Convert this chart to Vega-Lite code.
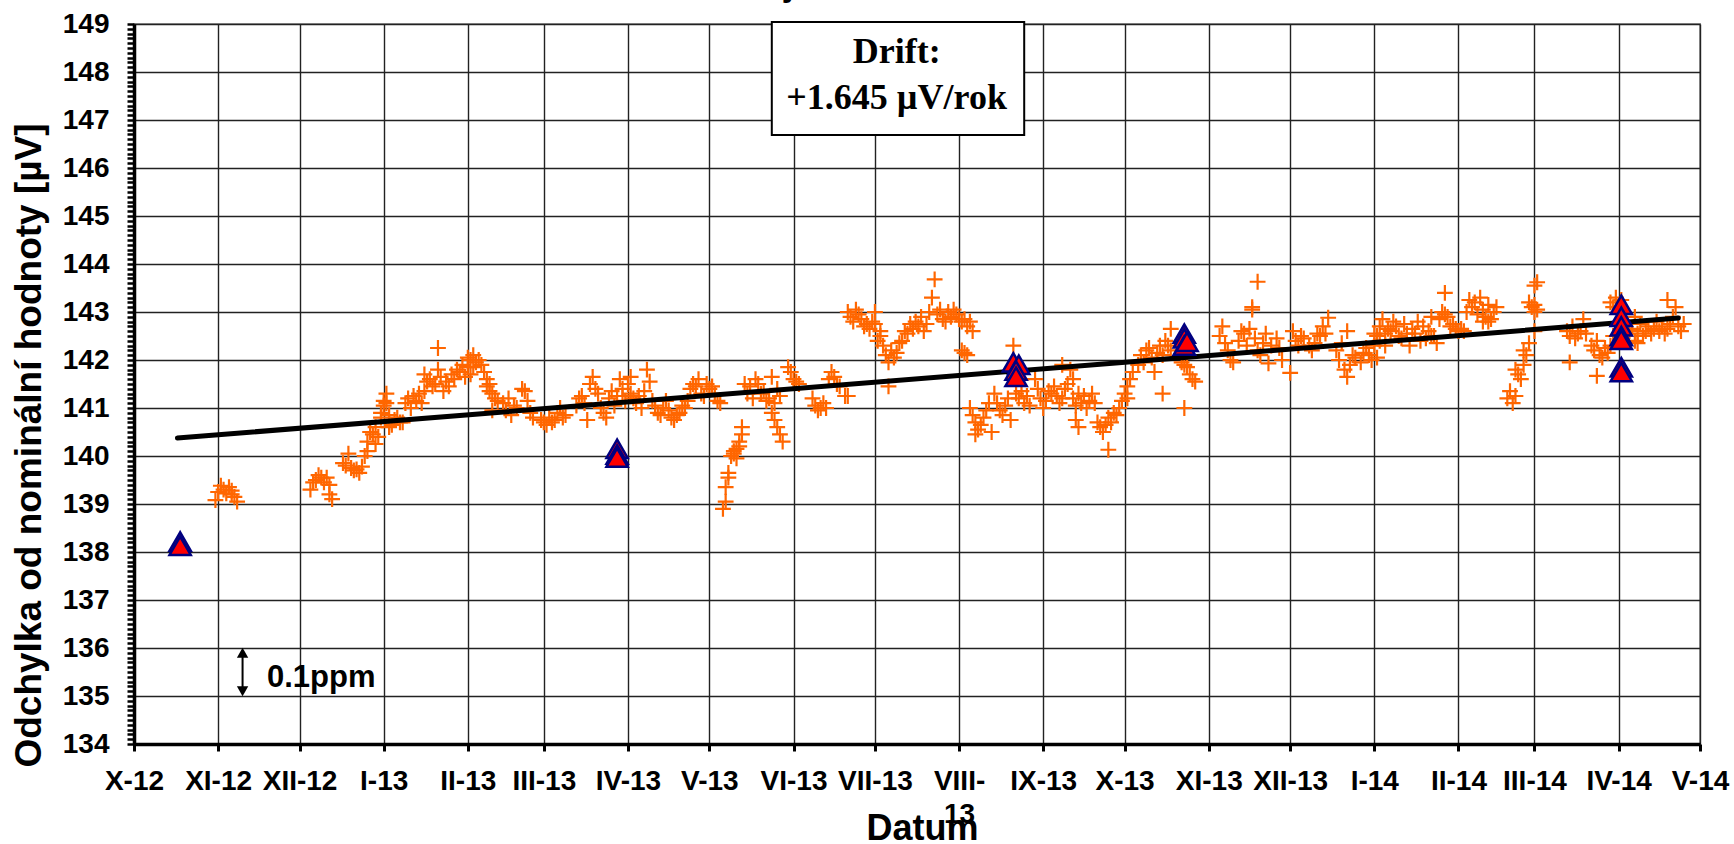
{
"$schema": "https://vega.github.io/schema/vega-lite/v6.json",
"width": 1566, "height": 720,
"autosize": {"type": "none"},
"padding": {"left": 134, "top": 24, "right": 34, "bottom": 100},
"background": "white",
"config": {"view": {"stroke": "#999999", "strokeWidth": 2}, "font": "Liberation Sans"},
"title": {"text": "jednotka č.6", "font": "Liberation Sans", "fontSize": 36, "fontWeight": "bold", "color": "black", "anchor": "middle", "dx": -29, "offset": 7},
"datasets": {
"pts": [
{"d":"2012-10-31","v":139.08},{"d":"2012-11-01","v":139.25},{"d":"2012-11-02","v":139.38},{"d":"2012-11-03","v":139.30},{"d":"2012-11-04","v":139.22},{"d":"2012-11-05","v":139.35},{"d":"2012-11-06","v":139.28},{"d":"2012-11-06","v":139.20},{"d":"2012-11-07","v":139.15},{"d":"2012-11-08","v":139.05},
{"d":"2012-12-05","v":139.30},{"d":"2012-12-06","v":139.45},{"d":"2012-12-07","v":139.50},{"d":"2012-12-08","v":139.60},{"d":"2012-12-09","v":139.55},{"d":"2012-12-10","v":139.45},{"d":"2012-12-11","v":139.55},{"d":"2012-12-12","v":139.40},{"d":"2012-12-12","v":139.20},{"d":"2012-12-13","v":139.10},
{"d":"2012-12-17","v":139.85},{"d":"2012-12-18","v":139.80},{"d":"2012-12-19","v":140.05},{"d":"2012-12-20","v":139.75},{"d":"2012-12-21","v":139.70},{"d":"2012-12-22","v":139.72},{"d":"2012-12-23","v":139.65},{"d":"2012-12-24","v":139.78},{"d":"2012-12-25","v":140.00},{"d":"2012-12-26","v":140.10},
{"d":"2012-12-26","v":140.30},{"d":"2012-12-27","v":140.50},{"d":"2012-12-28","v":140.45},{"d":"2012-12-29","v":140.60},{"d":"2012-12-30","v":140.40},{"d":"2012-12-29","v":140.25},{"d":"2012-12-31","v":140.80},{"d":"2012-12-31","v":140.90},
{"d":"2013-01-01","v":141.15},{"d":"2013-01-01","v":141.05},{"d":"2013-01-02","v":141.30},{"d":"2013-01-02","v":141.10},{"d":"2013-01-03","v":140.70},{"d":"2013-01-03","v":140.60},{"d":"2013-01-04","v":140.65},{"d":"2013-01-05","v":140.75},{"d":"2013-01-06","v":140.80},{"d":"2013-01-07","v":140.70},{"d":"2013-01-03","v":140.85},{"d":"2013-01-08","v":140.70},
{"d":"2013-01-09","v":141.10},{"d":"2013-01-10","v":141.20},{"d":"2013-01-11","v":141.00},{"d":"2013-01-12","v":141.25},{"d":"2013-01-13","v":141.15},{"d":"2013-01-14","v":141.30},{"d":"2013-01-15","v":141.10},{"d":"2013-01-16","v":141.35},
{"d":"2013-01-16","v":141.70},{"d":"2013-01-17","v":141.55},{"d":"2013-01-18","v":141.60},{"d":"2013-01-19","v":141.45},{"d":"2013-01-20","v":141.50},{"d":"2013-01-21","v":141.80},{"d":"2013-01-22","v":141.65},{"d":"2013-01-21","v":142.25},
{"d":"2013-01-23","v":141.35},{"d":"2013-01-24","v":141.55},{"d":"2013-01-25","v":141.45},{"d":"2013-01-26","v":141.70},{"d":"2013-01-27","v":141.60},{"d":"2013-01-28","v":141.80},{"d":"2013-01-29","v":141.75},{"d":"2013-01-30","v":141.90},{"d":"2013-01-31","v":141.65},{"d":"2013-02-01","v":141.85},{"d":"2013-02-02","v":141.70},
{"d":"2013-02-01","v":142.05},{"d":"2013-02-02","v":142.00},{"d":"2013-02-03","v":142.10},{"d":"2013-02-04","v":141.95},{"d":"2013-02-05","v":142.00},{"d":"2013-02-06","v":141.90},{"d":"2013-02-07","v":141.75},{"d":"2013-02-08","v":141.60},{"d":"2013-02-09","v":141.50},{"d":"2013-02-03","v":141.85},
{"d":"2013-02-08","v":141.45},{"d":"2013-02-09","v":141.35},{"d":"2013-02-10","v":141.30},{"d":"2013-02-11","v":141.20},{"d":"2013-02-12","v":141.15},{"d":"2013-02-10","v":140.95},
{"d":"2013-02-14","v":141.10},{"d":"2013-02-15","v":140.95},{"d":"2013-02-16","v":141.20},{"d":"2013-02-17","v":140.85},{"d":"2013-02-18","v":141.05},{"d":"2013-02-19","v":141.00},
{"d":"2013-02-21","v":141.40},{"d":"2013-02-22","v":141.35},{"d":"2013-02-23","v":141.15},{"d":"2013-02-24","v":140.90},{"d":"2013-02-25","v":140.80},
{"d":"2013-02-28","v":140.75},{"d":"2013-03-01","v":140.70},{"d":"2013-03-02","v":140.65},{"d":"2013-03-03","v":140.80},{"d":"2013-03-04","v":140.70},{"d":"2013-03-05","v":140.75},{"d":"2013-03-06","v":140.90},{"d":"2013-03-07","v":141.00},{"d":"2013-03-08","v":140.80},{"d":"2013-03-09","v":140.85},
{"d":"2013-03-13","v":141.05},{"d":"2013-03-14","v":141.20},{"d":"2013-03-15","v":141.25},{"d":"2013-03-16","v":141.10},{"d":"2013-03-17","v":140.75},{"d":"2013-03-18","v":141.50},{"d":"2013-03-19","v":141.65},{"d":"2013-03-20","v":141.40},{"d":"2013-03-21","v":141.30},{"d":"2013-03-22","v":141.00},{"d":"2013-03-23","v":140.90},{"d":"2013-03-24","v":140.80},
{"d":"2013-03-25","v":141.20},{"d":"2013-03-26","v":141.35},{"d":"2013-03-27","v":141.05},{"d":"2013-03-28","v":141.25},{"d":"2013-03-29","v":141.60},{"d":"2013-03-30","v":141.25},{"d":"2013-03-30","v":141.40},{"d":"2013-03-31","v":141.15},
{"d":"2013-04-01","v":141.50},{"d":"2013-04-02","v":141.30},{"d":"2013-04-02","v":141.65},{"d":"2013-04-03","v":141.20},{"d":"2013-04-04","v":141.10},{"d":"2013-04-05","v":141.25},{"d":"2013-04-06","v":141.00},{"d":"2013-04-07","v":141.35},{"d":"2013-04-08","v":141.80},{"d":"2013-04-09","v":141.55},{"d":"2013-04-10","v":141.15},{"d":"2013-04-11","v":141.05},{"d":"2013-04-12","v":140.90},{"d":"2013-04-13","v":140.85},
{"d":"2013-04-14","v":141.00},{"d":"2013-04-15","v":141.15},{"d":"2013-04-16","v":140.95},{"d":"2013-04-17","v":140.80},{"d":"2013-04-18","v":140.75},{"d":"2013-04-19","v":140.85},{"d":"2013-04-20","v":140.90},
{"d":"2013-04-21","v":141.05},{"d":"2013-04-22","v":141.00},{"d":"2013-04-23","v":141.15},{"d":"2013-04-24","v":141.40},{"d":"2013-04-25","v":141.50},{"d":"2013-04-26","v":141.45},{"d":"2013-04-27","v":141.60},{"d":"2013-04-28","v":141.30},{"d":"2013-04-29","v":141.25},{"d":"2013-04-30","v":141.50},
{"d":"2013-05-01","v":141.40},{"d":"2013-05-02","v":141.45},{"d":"2013-05-03","v":141.30},{"d":"2013-05-04","v":141.15},{"d":"2013-05-05","v":141.10},
{"d":"2013-05-06","v":138.90},{"d":"2013-05-07","v":139.05},{"d":"2013-05-07","v":139.35},{"d":"2013-05-08","v":139.55},{"d":"2013-05-08","v":139.65},{"d":"2013-05-09","v":140.00},{"d":"2013-05-10","v":140.05},{"d":"2013-05-10","v":140.10},{"d":"2013-05-11","v":139.95},{"d":"2013-05-11","v":140.15},{"d":"2013-05-12","v":140.30},{"d":"2013-05-12","v":140.20},{"d":"2013-05-13","v":140.45},{"d":"2013-05-13","v":140.60},
{"d":"2013-05-14","v":141.50},{"d":"2013-05-15","v":141.30},{"d":"2013-05-16","v":141.45},{"d":"2013-05-17","v":141.20},{"d":"2013-05-18","v":141.60},{"d":"2013-05-19","v":141.50},{"d":"2013-05-20","v":141.30},{"d":"2013-05-21","v":141.35},{"d":"2013-05-22","v":141.15},{"d":"2013-05-23","v":141.20},{"d":"2013-05-24","v":141.65},{"d":"2013-05-25","v":141.10},{"d":"2013-05-26","v":141.40},{"d":"2013-05-27","v":141.25},
{"d":"2013-05-24","v":140.90},{"d":"2013-05-25","v":140.75},{"d":"2013-05-26","v":140.60},{"d":"2013-05-27","v":140.45},{"d":"2013-05-28","v":140.30},
{"d":"2013-05-30","v":141.85},{"d":"2013-05-31","v":141.75},{"d":"2013-06-01","v":141.60},{"d":"2013-06-02","v":141.55},{"d":"2013-06-03","v":141.50},
{"d":"2013-06-08","v":141.20},{"d":"2013-06-09","v":141.05},{"d":"2013-06-10","v":140.95},{"d":"2013-06-11","v":141.00},{"d":"2013-06-12","v":141.10},{"d":"2013-06-13","v":141.00},
{"d":"2013-06-14","v":141.60},{"d":"2013-06-15","v":141.75},{"d":"2013-06-16","v":141.65},{"d":"2013-06-17","v":141.50},{"d":"2013-06-18","v":141.45},{"d":"2013-06-20","v":141.25},{"d":"2013-06-21","v":141.25},{"d":"2013-07-06","v":141.45},
{"d":"2013-06-21","v":143.00},{"d":"2013-06-22","v":142.90},{"d":"2013-06-23","v":142.80},{"d":"2013-06-24","v":143.05},{"d":"2013-06-25","v":142.95},{"d":"2013-06-26","v":142.85},{"d":"2013-06-27","v":142.70},{"d":"2013-06-28","v":142.75},{"d":"2013-06-29","v":142.65},{"d":"2013-06-30","v":142.80},{"d":"2013-07-01","v":142.75},{"d":"2013-07-01","v":143.00},{"d":"2013-07-02","v":142.40},{"d":"2013-07-03","v":142.60},
{"d":"2013-07-03","v":142.50},{"d":"2013-07-04","v":142.30},{"d":"2013-07-05","v":142.10},{"d":"2013-07-06","v":141.95},{"d":"2013-07-07","v":142.20},{"d":"2013-07-08","v":142.05},{"d":"2013-07-09","v":142.15},{"d":"2013-07-10","v":142.35},{"d":"2013-07-11","v":142.40},{"d":"2013-07-12","v":142.60},{"d":"2013-07-13","v":142.55},{"d":"2013-07-14","v":142.75},{"d":"2013-07-15","v":142.65},
{"d":"2013-07-16","v":142.80},{"d":"2013-07-17","v":142.70},{"d":"2013-07-18","v":142.90},{"d":"2013-07-19","v":142.60},{"d":"2013-07-20","v":142.75},{"d":"2013-07-21","v":143.00},{"d":"2013-07-22","v":143.30},{"d":"2013-07-23","v":143.68},{"d":"2013-07-24","v":142.95},{"d":"2013-07-25","v":143.05},{"d":"2013-07-26","v":142.85},{"d":"2013-07-27","v":142.80},{"d":"2013-07-28","v":143.00},{"d":"2013-07-29","v":142.90},{"d":"2013-07-30","v":143.05},{"d":"2013-07-31","v":142.95},{"d":"2013-08-01","v":142.85},{"d":"2013-08-02","v":142.80},{"d":"2013-08-03","v":142.85},{"d":"2013-08-04","v":142.70},{"d":"2013-08-05","v":142.80},{"d":"2013-08-06","v":142.60},
{"d":"2013-08-02","v":142.20},{"d":"2013-08-03","v":142.15},{"d":"2013-08-04","v":142.10},
{"d":"2013-08-05","v":141.00},{"d":"2013-08-06","v":140.85},{"d":"2013-08-07","v":140.70},{"d":"2013-08-07","v":140.45},{"d":"2013-08-08","v":140.55},{"d":"2013-08-09","v":140.65},{"d":"2013-08-10","v":140.80},{"d":"2013-08-11","v":140.95},{"d":"2013-08-12","v":141.10},{"d":"2013-08-13","v":140.50},
{"d":"2013-08-14","v":141.30},{"d":"2013-08-15","v":141.10},{"d":"2013-08-16","v":140.95},{"d":"2013-08-17","v":140.85},{"d":"2013-08-18","v":141.05},{"d":"2013-08-19","v":141.20},{"d":"2013-08-20","v":140.75},{"d":"2013-08-21","v":142.30},
{"d":"2013-08-22","v":141.30},{"d":"2013-08-23","v":141.20},{"d":"2013-08-24","v":141.35},{"d":"2013-08-24","v":141.60},{"d":"2013-08-25","v":141.10},{"d":"2013-08-26","v":141.25},{"d":"2013-08-27","v":141.05},
{"d":"2013-08-29","v":141.60},{"d":"2013-08-30","v":141.40},{"d":"2013-08-31","v":141.20},{"d":"2013-09-01","v":141.00},{"d":"2013-09-02","v":141.15},{"d":"2013-09-03","v":141.35},{"d":"2013-09-04","v":141.30},{"d":"2013-09-05","v":141.45},{"d":"2013-09-06","v":141.25},{"d":"2013-09-07","v":141.10},{"d":"2013-09-08","v":141.90},{"d":"2013-09-08","v":141.20},{"d":"2013-09-09","v":141.40},{"d":"2013-09-10","v":141.50},{"d":"2013-09-11","v":141.80},{"d":"2013-09-12","v":141.60},
{"d":"2013-09-12","v":141.20},{"d":"2013-09-13","v":141.05},{"d":"2013-09-14","v":141.30},{"d":"2013-09-15","v":141.10},{"d":"2013-09-16","v":141.25},{"d":"2013-09-17","v":141.00},{"d":"2013-09-18","v":141.15},{"d":"2013-09-19","v":141.30},{"d":"2013-09-20","v":141.10},{"d":"2013-09-13","v":140.75},{"d":"2013-09-14","v":140.60},
{"d":"2013-09-21","v":140.70},{"d":"2013-09-22","v":140.60},{"d":"2013-09-23","v":140.50},{"d":"2013-09-24","v":140.65},{"d":"2013-09-25","v":140.80},{"d":"2013-09-26","v":140.70},{"d":"2013-09-27","v":140.90},{"d":"2013-09-28","v":140.85},{"d":"2013-09-29","v":141.00},{"d":"2013-09-30","v":141.15},{"d":"2013-09-25","v":140.13},
{"d":"2013-10-01","v":141.30},{"d":"2013-10-02","v":141.45},{"d":"2013-10-03","v":141.60},{"d":"2013-10-04","v":141.75},{"d":"2013-10-02","v":141.20},
{"d":"2013-10-06","v":141.90},{"d":"2013-10-07","v":142.10},{"d":"2013-10-08","v":141.95},{"d":"2013-10-09","v":142.20},{"d":"2013-10-10","v":142.25},{"d":"2013-10-11","v":142.05},{"d":"2013-10-12","v":141.75},{"d":"2013-10-13","v":142.15},{"d":"2013-10-14","v":142.30},{"d":"2013-10-15","v":142.10},{"d":"2013-10-16","v":142.40},{"d":"2013-10-17","v":142.30},{"d":"2013-10-18","v":142.20},{"d":"2013-10-15","v":141.30},{"d":"2013-10-18","v":142.65},
{"d":"2013-10-22","v":141.95},{"d":"2013-10-23","v":141.90},{"d":"2013-10-24","v":141.85},{"d":"2013-10-25","v":141.70},{"d":"2013-10-26","v":141.60},{"d":"2013-10-27","v":141.55},{"d":"2013-10-23","v":141.00},
{"d":"2013-11-05","v":142.50},{"d":"2013-11-06","v":142.70},{"d":"2013-11-07","v":142.35},{"d":"2013-11-08","v":142.20},{"d":"2013-11-09","v":142.00},{"d":"2013-11-10","v":141.95},{"d":"2013-11-12","v":142.40},{"d":"2013-11-13","v":142.60},{"d":"2013-11-14","v":142.55},{"d":"2013-11-15","v":142.30},{"d":"2013-11-16","v":142.65},{"d":"2013-11-17","v":143.10},{"d":"2013-11-17","v":143.05},{"d":"2013-11-18","v":142.45},{"d":"2013-11-19","v":142.20},{"d":"2013-11-19","v":143.63},{"d":"2013-11-20","v":142.10},{"d":"2013-11-21","v":142.35},{"d":"2013-11-22","v":142.55},{"d":"2013-11-23","v":141.93},{"d":"2013-11-24","v":142.30},{"d":"2013-11-26","v":142.45},{"d":"2013-11-27","v":142.25},{"d":"2013-11-28","v":142.00},{"d":"2013-12-01","v":141.73},
{"d":"2013-12-02","v":142.60},{"d":"2013-12-03","v":142.40},{"d":"2013-12-04","v":142.30},{"d":"2013-12-05","v":142.50},{"d":"2013-12-06","v":142.45},{"d":"2013-12-08","v":142.30},{"d":"2013-12-09","v":142.20},{"d":"2013-12-10","v":142.35},{"d":"2013-12-11","v":142.55},{"d":"2013-12-12","v":142.50},{"d":"2013-12-13","v":142.70},{"d":"2013-12-14","v":142.55},{"d":"2013-12-15","v":142.88},
{"d":"2013-12-18","v":142.20},{"d":"2013-12-19","v":142.00},{"d":"2013-12-20","v":142.35},{"d":"2013-12-21","v":141.80},{"d":"2013-12-22","v":141.65},{"d":"2013-12-22","v":142.60},{"d":"2013-12-23","v":141.90},{"d":"2013-12-24","v":142.10},{"d":"2013-12-25","v":142.05},{"d":"2013-12-27","v":141.95},{"d":"2013-12-28","v":142.15},{"d":"2013-12-29","v":142.25},{"d":"2013-12-30","v":142.10},{"d":"2013-12-31","v":142.00},
{"d":"2014-01-01","v":142.30},{"d":"2014-01-01","v":142.55},{"d":"2014-01-02","v":142.05},{"d":"2014-01-02","v":142.50},{"d":"2014-01-03","v":142.70},{"d":"2014-01-03","v":142.40},{"d":"2014-01-04","v":142.85},{"d":"2014-01-05","v":142.55},{"d":"2014-01-05","v":142.30},{"d":"2014-01-06","v":142.65},{"d":"2014-01-07","v":142.60},{"d":"2014-01-08","v":142.80},{"d":"2014-01-09","v":142.70},{"d":"2014-01-10","v":142.50},{"d":"2014-01-11","v":142.45},{"d":"2014-01-12","v":142.75},{"d":"2014-01-13","v":142.55},{"d":"2014-01-14","v":142.30},
{"d":"2014-01-15","v":142.65},{"d":"2014-01-16","v":142.55},{"d":"2014-01-17","v":142.80},{"d":"2014-01-18","v":142.40},{"d":"2014-01-19","v":142.70},{"d":"2014-01-20","v":142.45},{"d":"2014-01-21","v":142.60},{"d":"2014-01-22","v":142.90},{"d":"2014-01-22","v":142.50},{"d":"2014-01-23","v":142.50},{"d":"2014-01-24","v":142.35},
{"d":"2014-01-25","v":142.85},{"d":"2014-01-26","v":143.00},{"d":"2014-01-27","v":142.95},{"d":"2014-01-27","v":143.40},{"d":"2014-01-28","v":142.90},{"d":"2014-01-29","v":142.70},{"d":"2014-01-30","v":142.75},{"d":"2014-01-31","v":142.65},
{"d":"2014-02-01","v":142.60},{"d":"2014-02-02","v":142.65},{"d":"2014-02-03","v":142.60},
{"d":"2014-02-04","v":143.00},{"d":"2014-02-05","v":143.25},{"d":"2014-02-06","v":143.10},{"d":"2014-02-07","v":143.20},{"d":"2014-02-08","v":142.95},{"d":"2014-02-09","v":143.30},{"d":"2014-02-10","v":143.05},{"d":"2014-02-11","v":142.90},{"d":"2014-02-12","v":143.15},{"d":"2014-02-13","v":142.85},{"d":"2014-02-14","v":143.00},{"d":"2014-02-15","v":143.10},{"d":"2014-02-10","v":142.80},{"d":"2014-02-12","v":142.80},
{"d":"2014-02-19","v":141.20},{"d":"2014-02-20","v":141.35},{"d":"2014-02-21","v":141.10},{"d":"2014-02-22","v":141.25},{"d":"2014-02-22","v":141.80},{"d":"2014-02-23","v":141.70},{"d":"2014-02-24","v":141.60},{"d":"2014-02-25","v":141.90},{"d":"2014-02-25","v":142.20},{"d":"2014-02-26","v":142.10},{"d":"2014-02-27","v":142.35},
{"d":"2014-02-27","v":143.20},{"d":"2014-02-28","v":143.10},{"d":"2014-03-01","v":143.15},{"d":"2014-03-01","v":143.00},{"d":"2014-03-02","v":143.05},{"d":"2014-03-01","v":143.55},{"d":"2014-03-02","v":143.62},{"d":"2014-03-01","v":142.60},
{"d":"2014-03-13","v":142.60},{"d":"2014-03-14","v":142.50},{"d":"2014-03-15","v":142.70},{"d":"2014-03-16","v":142.45},{"d":"2014-03-17","v":142.55},{"d":"2014-03-18","v":142.60},{"d":"2014-03-19","v":142.85},{"d":"2014-03-20","v":142.55},{"d":"2014-03-14","v":141.95},
{"d":"2014-03-22","v":142.30},{"d":"2014-03-23","v":142.20},{"d":"2014-03-24","v":142.40},{"d":"2014-03-24","v":141.67},{"d":"2014-03-25","v":142.10},{"d":"2014-03-26","v":142.05},{"d":"2014-03-27","v":142.25},{"d":"2014-03-28","v":142.15},{"d":"2014-03-29","v":142.30},{"d":"2014-03-30","v":142.50},
{"d":"2014-03-29","v":143.20},{"d":"2014-03-30","v":143.10},{"d":"2014-03-31","v":143.30},{"d":"2014-04-01","v":143.00},{"d":"2014-04-02","v":143.25},
{"d":"2014-04-05","v":142.60},{"d":"2014-04-06","v":142.65},{"d":"2014-04-07","v":142.90},{"d":"2014-04-07","v":142.40},{"d":"2014-04-08","v":142.55},{"d":"2014-04-08","v":142.35},{"d":"2014-04-09","v":142.75},{"d":"2014-04-10","v":142.50},{"d":"2014-04-11","v":142.60},{"d":"2014-04-12","v":142.70},{"d":"2014-04-13","v":142.55},{"d":"2014-04-14","v":142.65},{"d":"2014-04-15","v":142.80},{"d":"2014-04-16","v":142.60},{"d":"2014-04-17","v":142.70},{"d":"2014-04-18","v":142.55},{"d":"2014-04-19","v":142.65},{"d":"2014-04-19","v":143.25},{"d":"2014-04-20","v":142.75},{"d":"2014-04-21","v":142.90},{"d":"2014-04-22","v":143.10},{"d":"2014-04-23","v":142.70},{"d":"2014-04-24","v":142.60},{"d":"2014-04-25","v":142.75}
],
"ref": [
{"d":"2012-10-18","v":138.22},{"d":"2012-10-18","v":138.13},
{"d":"2013-03-28","v":140.15},{"d":"2013-03-28","v":140.03},{"d":"2013-03-28","v":139.97},
{"d":"2013-08-21","v":141.95},{"d":"2013-08-23","v":141.90},{"d":"2013-08-22","v":141.78},{"d":"2013-08-22","v":141.65},
{"d":"2013-10-23","v":142.55},{"d":"2013-10-23","v":142.45},{"d":"2013-10-23","v":142.30},{"d":"2013-10-24","v":142.38},
{"d":"2014-04-02","v":143.15},{"d":"2014-04-02","v":142.90},{"d":"2014-04-02","v":142.70},{"d":"2014-04-02","v":142.50},{"d":"2014-04-02","v":142.42},{"d":"2014-04-02","v":141.85},{"d":"2014-04-02","v":141.75}
],
"trend": [{"d":"2012-10-17","v":140.375},{"d":"2014-04-23","v":142.875}]
},
"layer": [
{
"data": {"name": "pts"},
"mark": {"type": "point", "shape": "M-1,0L1,0M0,-1L0,1", "size": 250, "filled": false, "stroke": "#FF6600", "strokeWidth": 2.2, "opacity": 1},
"encoding": {
"x": {"field": "d", "type": "temporal",
"scale": {"type": "utc", "domain": [{"year": 2012, "month": 10, "date": 1, "utc": true}, {"year": 2014, "month": 5, "date": 1, "utc": true}], "nice": false},
"axis": {
"values": [{"year":2012,"month":10,"date":1,"utc":true},{"year":2012,"month":11,"date":1,"utc":true},{"year":2012,"month":12,"date":1,"utc":true},{"year":2013,"month":1,"date":1,"utc":true},{"year":2013,"month":2,"date":1,"utc":true},{"year":2013,"month":3,"date":1,"utc":true},{"year":2013,"month":4,"date":1,"utc":true},{"year":2013,"month":5,"date":1,"utc":true},{"year":2013,"month":6,"date":1,"utc":true},{"year":2013,"month":7,"date":1,"utc":true},{"year":2013,"month":8,"date":1,"utc":true},{"year":2013,"month":9,"date":1,"utc":true},{"year":2013,"month":10,"date":1,"utc":true},{"year":2013,"month":11,"date":1,"utc":true},{"year":2013,"month":12,"date":1,"utc":true},{"year":2014,"month":1,"date":1,"utc":true},{"year":2014,"month":2,"date":1,"utc":true},{"year":2014,"month":3,"date":1,"utc":true},{"year":2014,"month":4,"date":1,"utc":true},{"year":2014,"month":5,"date":1,"utc":true}],
"tickCount": 100,
"labelExpr": "utcmonth(datum.value) == 7 ? ['VIII-', utcFormat(datum.value, '%y')] : ['I','II','III','IV','V','VI','VII','VIII','IX','X','XI','XII'][utcmonth(datum.value)] + '-' + utcFormat(datum.value, '%y')",
"labelFont": "Liberation Sans", "labelFontSize": 28, "labelFontWeight": "bold", "labelColor": "black",
"labelPadding": 16, "labelOverlap": false, "labelFlush": false, "labelLineHeight": 33, "labelBaseline": "top",
"tickSize": 7, "tickWidth": 3, "tickColor": "black",
"domainColor": "black", "domainWidth": 3.5,
"grid": true, "gridColor": "#222222", "gridWidth": 1.4,
"title": "Datum", "titleFont": "Liberation Sans", "titleFontSize": 36, "titleFontWeight": "bold", "titleColor": "black",
"titleX": 788, "titleY": 95, "titleBaseline": "alphabetic", "titleAlign": "center"
}},
"y": {"field": "v", "type": "quantitative",
"scale": {"domain": [134, 149], "nice": false, "zero": false},
"axis": {
"values": [134,134.1,134.2,134.3,134.4,134.5,134.6,134.7,134.8,134.9,135,135.1,135.2,135.3,135.4,135.5,135.6,135.7,135.8,135.9,136,136.1,136.2,136.3,136.4,136.5,136.6,136.7,136.8,136.9,137,137.1,137.2,137.3,137.4,137.5,137.6,137.7,137.8,137.9,138,138.1,138.2,138.3,138.4,138.5,138.6,138.7,138.8,138.9,139,139.1,139.2,139.3,139.4,139.5,139.6,139.7,139.8,139.9,140,140.1,140.2,140.3,140.4,140.5,140.6,140.7,140.8,140.9,141,141.1,141.2,141.3,141.4,141.5,141.6,141.7,141.8,141.9,142,142.1,142.2,142.3,142.4,142.5,142.6,142.7,142.8,142.9,143,143.1,143.2,143.3,143.4,143.5,143.6,143.7,143.8,143.9,144,144.1,144.2,144.3,144.4,144.5,144.6,144.7,144.8,144.9,145,145.1,145.2,145.3,145.4,145.5,145.6,145.7,145.8,145.9,146,146.1,146.2,146.3,146.4,146.5,146.6,146.7,146.8,146.9,147,147.1,147.2,147.3,147.4,147.5,147.6,147.7,147.8,147.9,148,148.1,148.2,148.3,148.4,148.5,148.6,148.7,148.8,148.9,149],
"tickCount": 400,
"labelExpr": "abs(datum.value - round(datum.value)) < 0.01 ? format(datum.value, 'd') : ''",
"labelFont": "Liberation Sans", "labelFontSize": 28, "labelFontWeight": "bold", "labelColor": "black",
"labelPadding": 18, "labelOverlap": false, "labelFlush": false, "labelBaseline": "middle",
"tickSize": 7, "tickWidth": 2.5, "tickColor": "black",
"domainColor": "black", "domainWidth": 3.5,
"grid": true, "gridColor": "#222222", "gridWidth": 1.4,
"gridOpacity": {"condition": {"test": "abs(datum.value - round(datum.value)) < 0.01", "value": 1}, "value": 0},
"title": "Odchylka od nominální hodnoty [µV]", "titleFont": "Liberation Sans", "titleFontSize": 37, "titleFontWeight": "bold", "titleColor": "black",
"titleAngle": -90, "titleX": -94, "titleY": 421, "titleAlign": "center", "titleBaseline": "alphabetic"
}}
}
},
{
"data": {"name": "trend"},
"mark": {"type": "line", "color": "black", "strokeWidth": 5, "strokeCap": "round"},
"encoding": {"x": {"field": "d", "type": "temporal"}, "y": {"field": "v", "type": "quantitative"}}
},
{
"data": {"name": "ref"},
"mark": {"type": "point", "shape": "triangle-up", "size": 450, "filled": true, "fill": "#FF0000", "stroke": "#000080", "strokeWidth": 2.5, "opacity": 1},
"encoding": {"x": {"field": "d", "type": "temporal"}, "y": {"field": "v", "type": "quantitative"}}
},
{
"data": {"values": [{}]},
"mark": {"type": "rect", "fill": "white", "stroke": "black", "strokeWidth": 2},
"encoding": {
"x": {"datum": {"year": 2013, "month": 5, "date": 24, "utc": true}, "type": "temporal"},
"x2": {"datum": {"year": 2013, "month": 8, "date": 25, "utc": true}},
"y": {"datum": 149.04, "type": "quantitative"},
"y2": {"datum": 146.69}
}
},
{
"data": {"values": [{}]},
"mark": {"type": "text", "font": "Liberation Serif", "fontSize": 36, "fontWeight": "bold", "color": "black", "align": "center", "baseline": "middle", "text": "Drift:"},
"encoding": {
"x": {"datum": {"year": 2013, "month": 7, "date": 9, "utc": true}, "type": "temporal"},
"y": {"datum": 148.42, "type": "quantitative"}
}
},
{
"data": {"values": [{}]},
"mark": {"type": "text", "font": "Liberation Serif", "fontSize": 36, "fontWeight": "bold", "color": "black", "align": "center", "baseline": "middle", "text": "+1.645 µV/rok"},
"encoding": {
"x": {"datum": {"year": 2013, "month": 7, "date": 9, "utc": true}, "type": "temporal"},
"y": {"datum": 147.46, "type": "quantitative"}
}
},
{
"data": {"values": [{}]},
"mark": {"type": "rule", "color": "black", "strokeWidth": 2},
"encoding": {
"x": {"datum": {"year": 2012, "month": 11, "date": 10, "utc": true}, "type": "temporal"},
"y": {"datum": 135.1, "type": "quantitative"},
"y2": {"datum": 135.9}
}
},
{
"data": {"values": [{}]},
"mark": {"type": "point", "shape": "triangle-up", "size": 130, "filled": true, "color": "black", "opacity": 1},
"encoding": {
"x": {"datum": {"year": 2012, "month": 11, "date": 10, "utc": true}, "type": "temporal"},
"y": {"datum": 135.9, "type": "quantitative"}
}
},
{
"data": {"values": [{}]},
"mark": {"type": "point", "shape": "triangle-down", "size": 130, "filled": true, "color": "black", "opacity": 1},
"encoding": {
"x": {"datum": {"year": 2012, "month": 11, "date": 10, "utc": true}, "type": "temporal"},
"y": {"datum": 135.1, "type": "quantitative"}
}
},
{
"data": {"values": [{}]},
"mark": {"type": "text", "font": "Liberation Sans", "fontSize": 31, "fontWeight": "bold", "color": "black", "align": "left", "baseline": "middle", "text": "0.1ppm"},
"encoding": {
"x": {"datum": {"year": 2012, "month": 11, "date": 19, "utc": true}, "type": "temporal"},
"y": {"datum": 135.38, "type": "quantitative"}
}
}
]
}
